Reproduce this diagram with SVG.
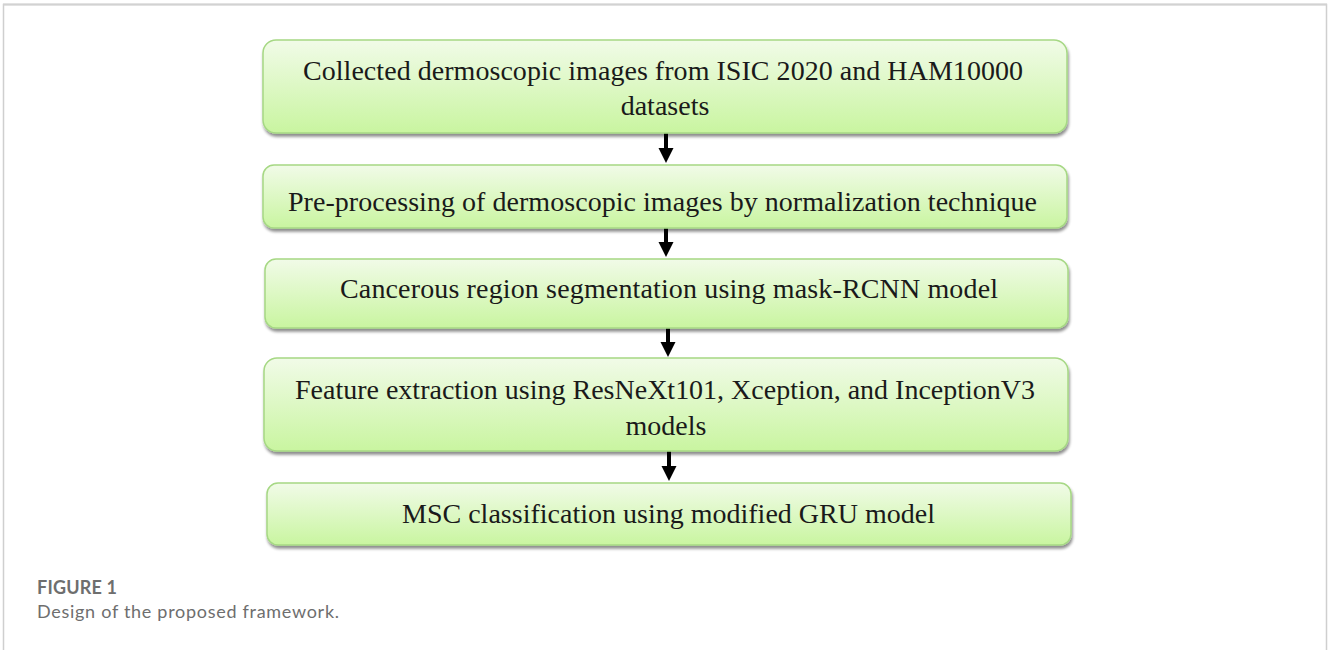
<svg xmlns="http://www.w3.org/2000/svg" width="1328" height="650" viewBox="0 0 1328 650">
  <defs>
    <linearGradient id="boxFill" x1="0" y1="0" x2="0" y2="1">
      <stop offset="0" stop-color="#f1fbe8"/>
      <stop offset="1" stop-color="#c9f5a0"/>
    </linearGradient>
    <filter id="shadow" x="-5%" y="-20%" width="110%" height="150%">
      <feGaussianBlur in="SourceAlpha" stdDeviation="1.6"/>
      <feOffset dx="1" dy="3" result="b"/>
      <feComponentTransfer><feFuncA type="linear" slope="0.45"/></feComponentTransfer>
      <feMerge><feMergeNode/><feMergeNode in="SourceGraphic"/></feMerge>
    </filter>
  </defs>
  <style>
    .frame { fill: none; stroke: #cfcfcf; }
    .box { fill: url(#boxFill); stroke: #a6d884; stroke-width: 1.5; filter: url(#shadow); }
    .lbl { font-family: "Liberation Serif", "Times New Roman", serif; font-size: 28px; fill: #1a1a1a; text-anchor: middle; }
    .arrow { stroke: #000; stroke-width: 4; fill: none; }
    .head { fill: #000; }
    .cap-title { font-family: Lato, "Open Sans", sans-serif; font-size: 18px; font-weight: bold; fill: #6e6e6e; }
    .cap-text { font-family: Lato, "Open Sans", sans-serif; font-size: 18px; fill: #6e6e6e; }
  </style>

  <!-- figure frame -->
  <path class="frame" d="M3.5 650 V4.5 H1326.5 V650" stroke-width="1.5"/>
  <line x1="3" y1="4.5" x2="1327" y2="4.5" stroke="#d2d2d2" stroke-width="2"/>

  <!-- connectors -->
  <g id="connectors">
    <line class="arrow" x1="666" y1="133" x2="666" y2="150"/>
    <polygon class="head" points="658.5,148 673.5,148 666,163"/>
    <line class="arrow" x1="666" y1="228" x2="666" y2="244"/>
    <polygon class="head" points="658.5,242 673.5,242 666,257"/>
    <line class="arrow" x1="668" y1="328" x2="668" y2="344"/>
    <polygon class="head" points="660.5,342 675.5,342 668,357"/>
    <line class="arrow" x1="669" y1="451" x2="669" y2="468"/>
    <polygon class="head" points="661.5,466 676.5,466 669,481"/>
  </g>

  <g id="step1">
    <rect class="box" x="263" y="40" width="804" height="93" rx="13"/>
    <text class="lbl" x="663" y="80" textLength="720" lengthAdjust="spacing">Collected dermoscopic images from ISIC 2020 and HAM10000</text>
    <text class="lbl" x="665" y="115">datasets</text>
  </g>

  <g id="step2">
    <rect class="box" x="263" y="165" width="804" height="63" rx="11"/>
    <text class="lbl" x="662.5" y="211" textLength="749" lengthAdjust="spacing">Pre-processing of dermoscopic images by normalization technique</text>
  </g>

  <g id="step3">
    <rect class="box" x="265" y="259" width="803" height="69" rx="11"/>
    <text class="lbl" x="669" y="298" textLength="658" lengthAdjust="spacing">Cancerous region segmentation using mask-RCNN model</text>
  </g>

  <g id="step4">
    <rect class="box" x="264" y="358" width="804" height="93" rx="13"/>
    <text class="lbl" x="665" y="399" textLength="740" lengthAdjust="spacing">Feature extraction using ResNeXt101, Xception, and InceptionV3</text>
    <text class="lbl" x="666" y="435">models</text>
  </g>

  <g id="step5">
    <rect class="box" x="267" y="483" width="804" height="62" rx="11"/>
    <text class="lbl" x="668.5" y="523" textLength="533" lengthAdjust="spacing">MSC classification using modified GRU model</text>
  </g>

  <!-- caption -->
  <g id="caption">
    <text class="cap-title" x="37" y="594" textLength="80" lengthAdjust="spacing">FIGURE 1</text>
    <text class="cap-text" x="37" y="618" textLength="302" lengthAdjust="spacing">Design of the proposed framework.</text>
  </g>
</svg>
